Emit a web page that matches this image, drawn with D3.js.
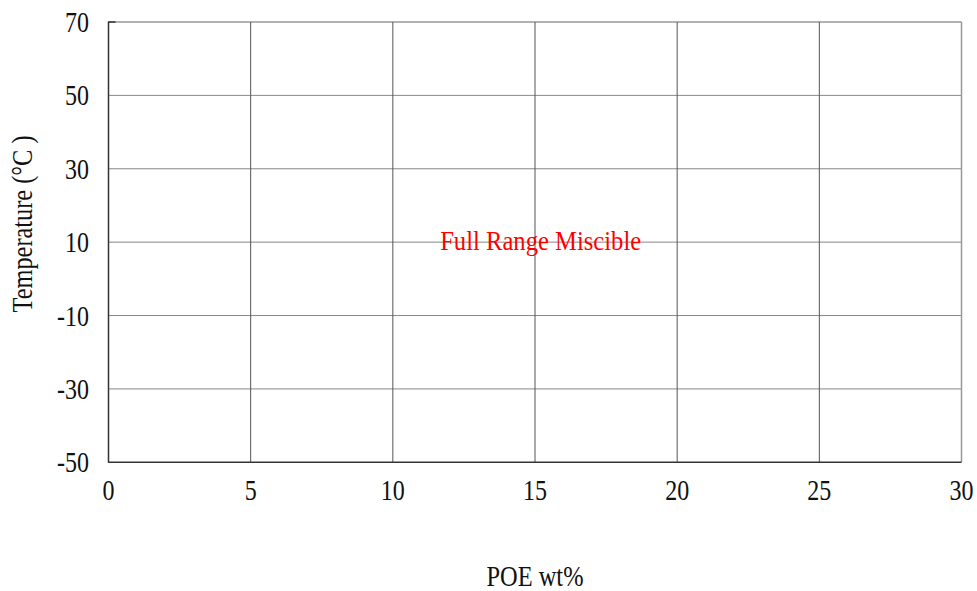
<!DOCTYPE html>
<html><head><meta charset="utf-8">
<script src="https://cdn.jsdelivr.net/npm/d3@7"></script>
<style>
body{margin:0;background:#fff;}
text{font-family:"Liberation Serif","Times New Roman",serif;}
</style></head><body>
<svg id="c" width="977" height="591"></svg>
<script>
const xTicks = [0, 5, 10, 15, 20, 25, 30];
const yTicks = [-50, -30, -10, 10, 30, 50, 70];
const xDomain = [0, 30];
const yDomain = [-50, 70];
const xTitle = "POE wt%";
const yTitle = "Temperature (\u00B0C )";
const annotationText = ["Full Range Miscible"];
const annotationX = [15.2];
const annotationY = [10];

const svg = d3.select("#c");
const L = 108.5, R = 961.5, T = 22, B = 462.3;
const x = d3.scaleLinear().domain(xDomain).range([L, R]);
const y = d3.scaleLinear().domain(yDomain).range([B, T]);
const SX = 0.8;

// horizontal gridlines
svg.append("g").selectAll("line").data(yTicks.filter(d=>d!==yDomain[0]))
  .join("line").attr("x1",L).attr("x2",R).attr("y1",d=>y(d)).attr("y2",d=>y(d))
  .attr("stroke", d=> d===yDomain[1] ? "#999" : "#888").attr("stroke-width", d=> d===yDomain[1]?1.5:1);
// vertical gridlines
svg.append("g").selectAll("line").data(xTicks.filter(d=>d!==xDomain[0]))
  .join("line").attr("x1",d=>x(d)).attr("x2",d=>x(d)).attr("y1",T).attr("y2",B)
  .attr("stroke", d=> d===xDomain[1] ? "#999" : "#555").attr("stroke-width", d=> d===xDomain[1]?1.5:1);

// axes lines
svg.append("line").attr("x1",L).attr("x2",L).attr("y1",T-0.5).attr("y2",B+0.5).attr("stroke","#333").attr("stroke-width",1.5);
svg.append("line").attr("x1",L).attr("x2",R).attr("y1",B).attr("y2",B).attr("stroke","#333").attr("stroke-width",1.5);
svg.append("line").attr("x1",L).attr("x2",L+7).attr("y1",T).attr("y2",T).attr("stroke","#333").attr("stroke-width",1.5);

// y tick labels
svg.append("g").selectAll("text").data(yTicks).join("text")
  .attr("transform", d=>`translate(89,${y(d)+10}) scale(${SX},1)`).attr("text-anchor","end")
  .attr("font-size", 30).attr("fill","#111").text(d=>d);

// x tick labels
svg.append("g").selectAll("text").data(xTicks).join("text")
  .attr("transform", d=>`translate(${x(d)},500) scale(${SX},1)`).attr("text-anchor","middle")
  .attr("font-size", 30).attr("fill","#111").text(d=>d);

// axis titles
svg.append("text").attr("x", 535).attr("y", 586).attr("text-anchor","middle")
  .attr("font-size", 29).attr("fill","#111").attr("textLength",97).attr("lengthAdjust","spacingAndGlyphs").text(xTitle);
svg.append("text").attr("transform","translate(32,224) rotate(-90)").attr("text-anchor","middle")
  .attr("font-size", 29).attr("fill","#111").attr("textLength",177).attr("lengthAdjust","spacingAndGlyphs").text(yTitle);

// annotation
svg.append("g").selectAll("text").data(annotationText).join("text")
  .attr("x",(d,i)=>x(annotationX[i])).attr("y",(d,i)=>y(annotationY[i])+7.5)
  .attr("text-anchor","middle")
  .attr("font-size", 28).attr("fill","#ff0000")
  .attr("textLength",201).attr("lengthAdjust","spacingAndGlyphs").text(d=>d);
</script></body></html>
